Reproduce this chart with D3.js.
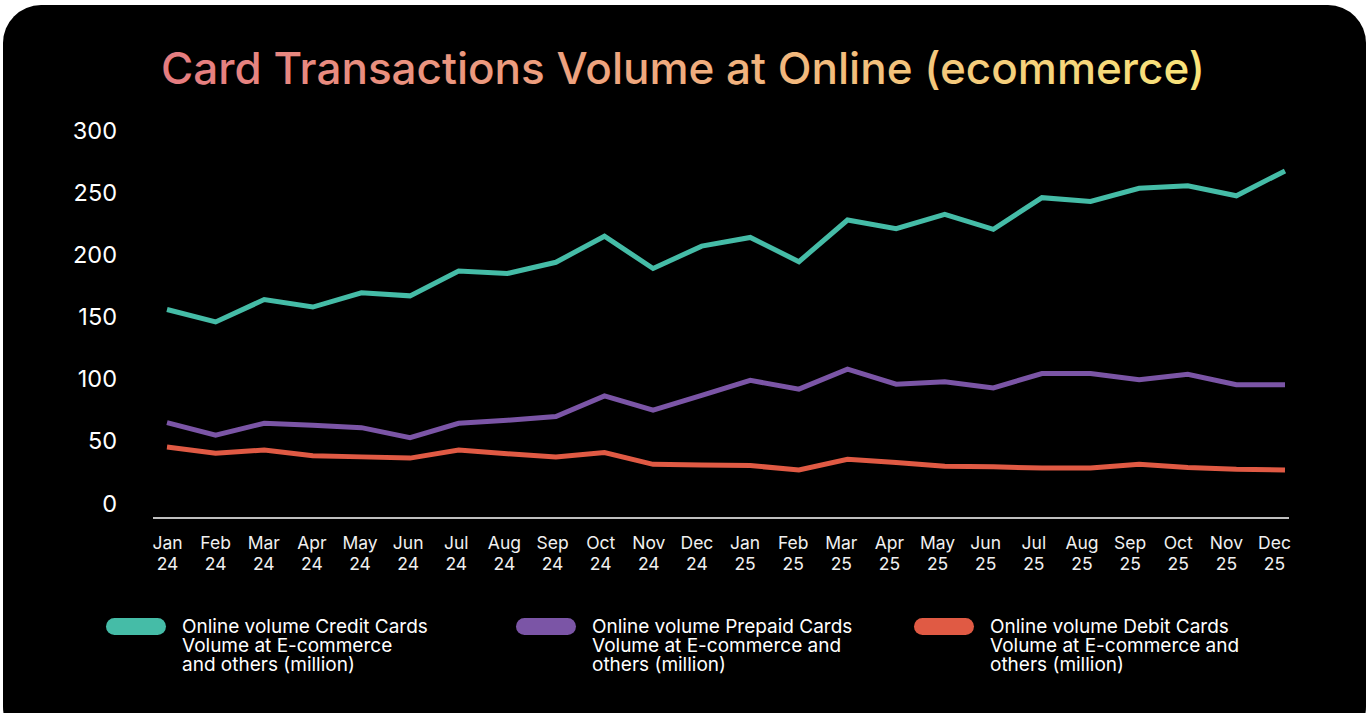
<!DOCTYPE html>
<html>
<head>
<meta charset="utf-8">
<script src="https://cdn.jsdelivr.net/npm/d3@7"></script>
<style>
  html, body { margin: 0; padding: 0; background: #ffffff; }
  svg { display: block; }
  text { font-family: Inter, "Noto Sans", sans-serif; }
</style>
</head>
<body>
<svg id="chart" width="1372" height="713"></svg>
<script>
// Months shown on the x axis (label lines: month / two-digit year)
const months = [
  "Jan 24", "Feb 24", "Mar 24", "Apr 24", "May 24", "Jun 24",
  "Jul 24", "Aug 24", "Sep 24", "Oct 24", "Nov 24", "Dec 24",
  "Jan 25", "Feb 25", "Mar 25", "Apr 25", "May 25", "Jun 25",
  "Jul 25", "Aug 25", "Sep 25", "Oct 25", "Nov 25", "Dec 25"
];

// Online volume, million transactions
const creditValues = [
  156, 146, 164, 158, 169.5, 167, 187, 185, 194, 215, 189, 207,
  214, 194.5, 228, 221, 232.5, 220.5, 246, 243, 253.5, 255.5, 247.5, 267.5
];
const prepaidValues = [
  65, 55, 64.5, 63, 61, 53, 64.5, 67, 70, 86.5, 75, 87,
  99, 92, 108, 96, 98, 93, 104.5, 104.5, 99.5, 104, 95.5, 95.5
];
const debitValues = [
  45.5, 40.5, 43, 38.5, 37.5, 36.5, 43, 40, 37.5, 41, 31.5, 31,
  30.5, 27, 35.5, 33, 30, 29.5, 28.5, 28.5, 31.5, 29, 27.5, 27
];

const yTicks = [0, 50, 100, 150, 200, 250, 300];

const seriesNames = [
  ["Online volume Credit Cards", "Volume at E-commerce", "and others (million)"],
  ["Online volume Prepaid Cards", "Volume at E-commerce and", "others (million)"],
  ["Online volume Debit Cards", "Volume at E-commerce and", "others (million)"]
];
const seriesColors = ["#45BCA7", "#7B55A6", "#E05A44"];

const titleText = "Card Transactions Volume at Online (ecommerce)";

const series = [creditValues, prepaidValues, debitValues].map((values, i) => ({
  names: seriesNames[i],
  color: seriesColors[i],
  values
}));

const svg = d3.select("#chart");

// Card background
svg.append("rect")
  .attr("x", 3).attr("y", 5)
  .attr("width", 1363).attr("height", 740)
  .attr("rx", 38).attr("ry", 38)
  .attr("fill", "#000000");

// Title with warm gradient
const defs = svg.append("defs");
const grad = defs.append("linearGradient")
  .attr("id", "titleGrad")
  .attr("gradientUnits", "userSpaceOnUse")
  .attr("x1", 167).attr("x2", 1198).attr("y1", 0).attr("y2", 0);
grad.append("stop").attr("offset", "0%").attr("stop-color", "#E57C80");
grad.append("stop").attr("offset", "50%").attr("stop-color", "#F0AC7E");
grad.append("stop").attr("offset", "100%").attr("stop-color", "#F8E47A");

svg.append("text")
  .attr("x", 683).attr("y", 84)
  .attr("text-anchor", "middle")
  .attr("font-size", 44)
  .attr("font-weight", 500)
  .attr("fill", "url(#titleGrad)")
  .text(titleText);

// Scales: line positions and month-label positions
const x = d3.scalePoint().domain(months).range([167, 1285]);
const xLabel = d3.scalePoint().domain(months).range([167, 1274]);
const y = d3.scaleLinear().domain([0, 300]).range([503.5, 130.5]);

// Y axis labels
const yAxis = svg.append("g")
  .attr("transform", "translate(117,0)")
  .call(d3.axisLeft(y).tickValues(yTicks).tickSize(0).tickPadding(0));
yAxis.select(".domain").remove();
yAxis.selectAll("text")
  .attr("fill", "#ffffff")
  .attr("font-size", 23.5)
  .attr("font-family", "Inter, sans-serif");

// X axis baseline
svg.append("line")
  .attr("x1", 153).attr("x2", 1289)
  .attr("y1", 518).attr("y2", 518)
  .attr("stroke", "#ffffff")
  .attr("stroke-width", 1.5);

// X axis labels (two lines each)
const xAxis = svg.append("g")
  .attr("transform", "translate(0,534)")
  .call(d3.axisBottom(xLabel).tickSize(0).tickPadding(0));
xAxis.select(".domain").remove();
xAxis.selectAll(".tick text")
  .attr("fill", "#f0f0f0")
  .attr("font-size", 17.5)
  .attr("font-family", "Inter, sans-serif")
  .attr("dy", null)
  .each(function (d) {
    const parts = d.split(" ");
    const t = d3.select(this).text(null).attr("y", 0);
    t.append("tspan").attr("x", 0).attr("dy", "0.88em").text(parts[0]);
    t.append("tspan").attr("x", 0).attr("dy", "1.15em").text(parts[1]);
  });

// Lines
const line = d3.line()
  .x((d, i) => x(months[i]))
  .y(d => y(d));

svg.append("g")
  .selectAll("path")
  .data(series.slice().reverse())
  .join("path")
  .attr("d", d => line(d.values))
  .attr("fill", "none")
  .attr("stroke", d => d.color)
  .attr("stroke-width", 5)
  .attr("stroke-linejoin", "miter");

// Legend
const legendX = [106, 516, 914];
const legend = svg.append("g")
  .selectAll("g")
  .data(series)
  .join("g")
  .attr("transform", (d, i) => `translate(${legendX[i]},618)`);

legend.append("rect")
  .attr("x", 0).attr("y", 0)
  .attr("width", 60).attr("height", 17)
  .attr("rx", 8.5).attr("ry", 8.5)
  .attr("fill", d => d.color);

legend.append("text")
  .attr("x", 76)
  .attr("y", 15)
  .attr("fill", "#ffffff")
  .attr("font-size", 19)
  .selectAll("tspan")
  .data(d => d.names)
  .join("tspan")
  .attr("x", 76)
  .attr("dy", (d, i) => i === 0 ? 0 : 19)
  .text(d => d);
</script>
</body>
</html>
